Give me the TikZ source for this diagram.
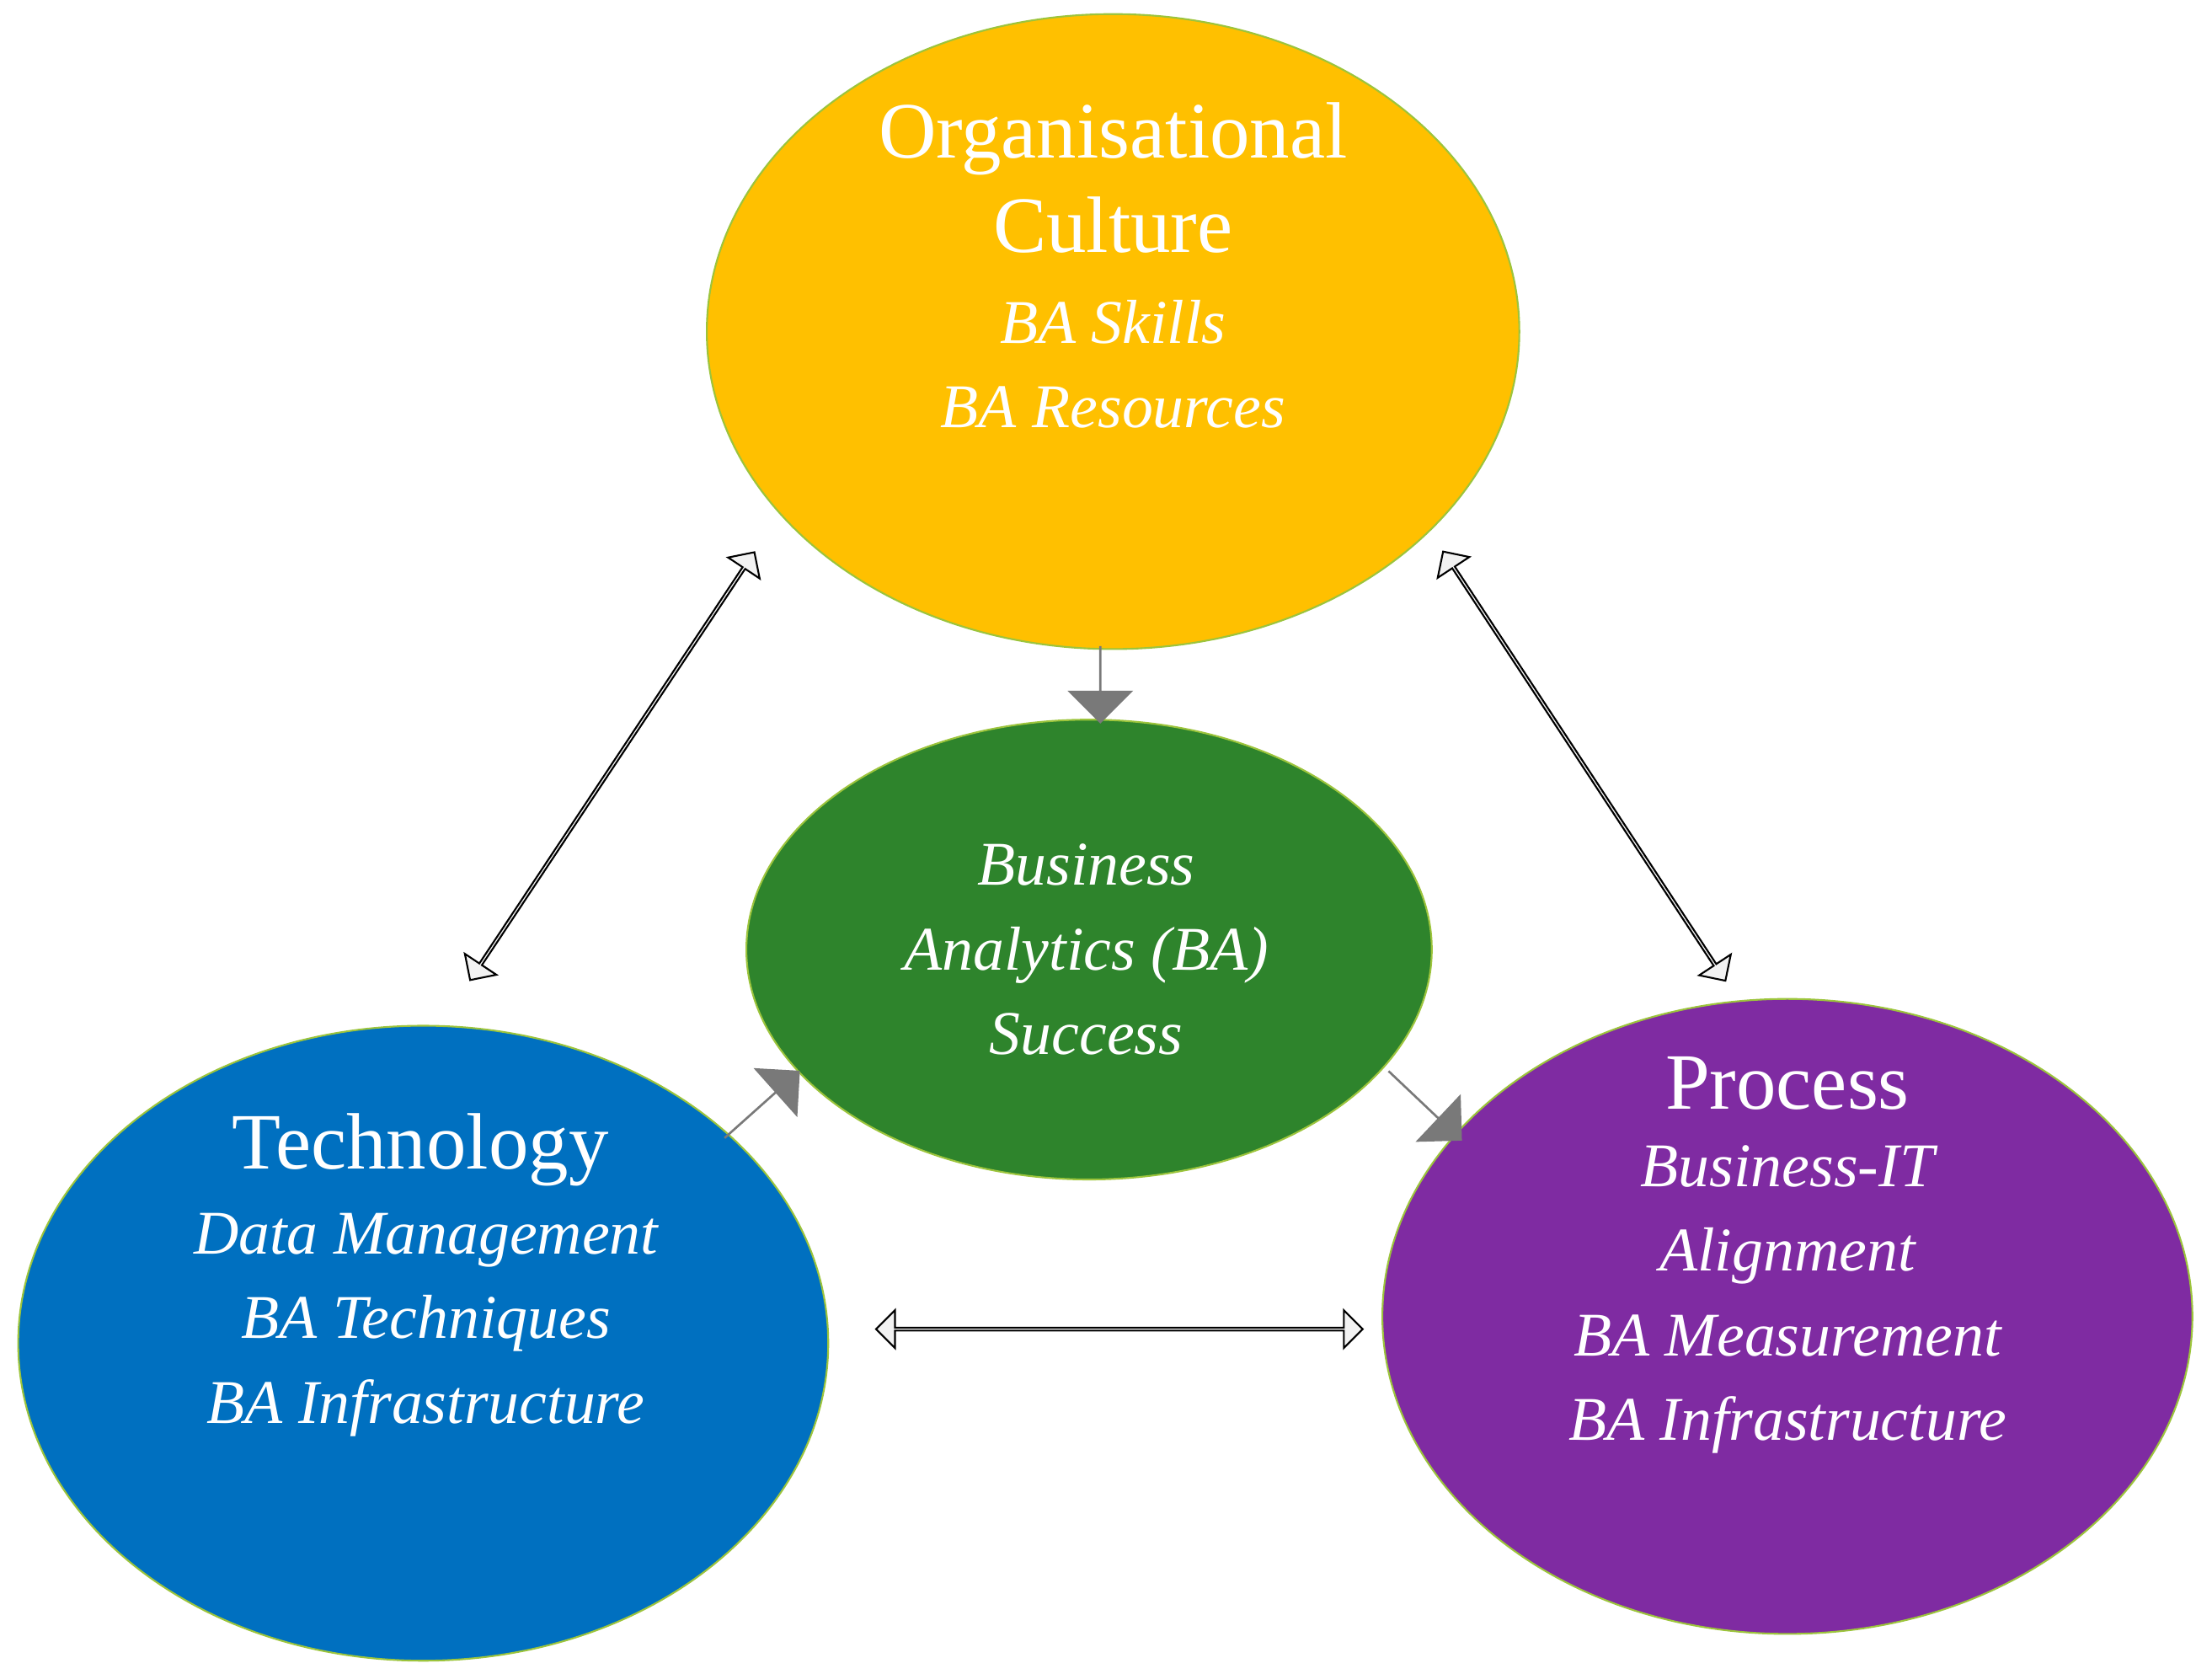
\documentclass[tikz,border=0pt]{standalone}
\usepackage{fontspec}
\setmainfont{Liberation Serif}
\usetikzlibrary{shapes.geometric,shapes.arrows}
\definecolor{cOr}{HTML}{FFC000}
\definecolor{cGr}{HTML}{2E842C}
\definecolor{cBl}{HTML}{0070C0}
\definecolor{cPu}{HTML}{7F2BA2}
\definecolor{cEd}{HTML}{9CC43C}
\tikzset{
  blob/.style={ellipse, draw=cEd, line width=0.6pt, inner sep=0pt},
  ttl/.style={text=white, align=center, font=\fontsize{27}{32}\selectfont},
  itl/.style={text=white, align=center, font=\fontsize{21}{28.5}\selectfont\itshape},
  grayarr/.style={single arrow, fill=gray!95!black, draw=none, minimum width=0.78cm,
    single arrow head extend=0.2cm, inner sep=0pt, minimum height=#1},
  dblarr/.style={double arrow, fill=black!5, draw=black, line width=0.6pt, minimum width=0.45cm,
    double arrow head extend=0.12cm, inner sep=0pt, minimum height=#1, sloped}
}
\begin{document}
\begin{tikzpicture}[x=0.016748cm,y=-0.016748cm]
\useasboundingbox (0,0) rectangle (1568,1186);
\node[blob, fill=cOr, minimum width=576\pgflinewidth*0+9.65cm, minimum height=7.54cm] (org) at (789,235) {};
\node[blob, fill=cGr, minimum width=8.14cm, minimum height=5.46cm] (ba) at (772,673) {};
\node[blob, fill=cBl, minimum width=9.62cm, minimum height=7.54cm] (tec) at (300,952) {};
\node[blob, fill=cPu, minimum width=9.62cm, minimum height=7.54cm] (pro) at (1267,933) {};

\node[ttl] (t1) at (789,126) {Organisational\\Culture};
\node[itl] (t1b) at (789,258) {BA Skills\\BA Resources};
\node[itl] (t2) at (770,673) {Business\\Analytics (BA)\\Success};
\node[ttl] (t3) at (298,815) {Technology};
\node[itl] (t3b) at (302,939) {Data Management\\BA Techniques\\BA Infrastructure};
\node[ttl] (t4) at (1267,768) {Process};
\node[itl] (t4b) at (1267,921) {Business-IT\\Alignment\\BA Measurement\\BA Infrastructure};

\coordinate (a1) at (780,458); \coordinate (a2) at (780,512);
\path (a1) -- (a2) node[midway, sloped, grayarr=0.92cm] (g1) {};
\coordinate (b1) at (512,808); \coordinate (b2) at (568,758);
\path (b1) -- (b2) node[midway, sloped, grayarr=1.2cm] (g2) {};
\coordinate (c1) at (1038,810); \coordinate (c2) at (982,757);
\path (c1) -- (c2) node[midway, sloped, grayarr=1.2cm] (g3) {};

\coordinate (d1) at (333,695); \coordinate (d2) at (535,391);
\path (d1) -- (d2) node[midway, dblarr=6.1cm] (w1) {};
\coordinate (e1) at (1223,695); \coordinate (e2) at (1023,391);
\path (e1) -- (e2) node[midway, dblarr=6.1cm] (w2) {};
\coordinate (f1) at (621,942); \coordinate (f2) at (966,942);
\path (f1) -- (f2) node[midway, dblarr=5.78cm] (w3) {};
\end{tikzpicture}
\end{document}
